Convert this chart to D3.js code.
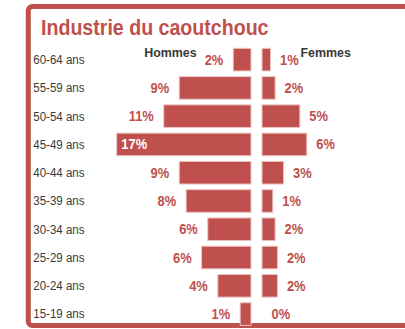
<!DOCTYPE html>
<html>
<head>
<meta charset="utf-8">
<script src="https://cdn.jsdelivr.net/npm/d3@7"></script>
<style>
  html, body { margin: 0; padding: 0; background: #fff; }
  svg { display: block; }
  text { font-family: "Liberation Sans", Arial, sans-serif; }
</style>
</head>
<body>
<svg id="chart" width="405" height="329"></svg>
<script>
// Age pyramid of the rubber industry workforce (% of total employees)
const ageGroups = ["60-64 ans", "55-59 ans", "50-54 ans", "45-49 ans", "40-44 ans",
                   "35-39 ans", "30-34 ans", "25-29 ans", "20-24 ans", "15-19 ans"];
const hommes = [2.3, 9.3, 11.3, 17.4, 9.3, 8.4, 5.6, 6.4, 4.3, 1.4];
const femmes = [1.1, 1.7, 4.9, 5.8, 2.8, 1.4, 1.7, 2.0, 2.0, 0.0];
const title = "Industrie du caoutchouc";
const seriesNames = ["Hommes", "Femmes"];

const red = "#c0504d";
const grey = "#3a3a3a";
const svg = d3.select("#chart");

// Frame
svg.append("rect")
  .attr("x", 28.3).attr("y", 6.5)
  .attr("width", 420).attr("height", 319)
  .attr("rx", 4)
  .attr("fill", "none")
  .attr("stroke", red)
  .attr("stroke-width", 5);

svg.append("text")
  .attr("x", 41).attr("y", 35.3)
  .attr("fill", red)
  .attr("font-size", 21.3)
  .attr("font-weight", "bold")
  .text(title);

const y = d3.scaleBand()
  .domain(ageGroups)
  .range([45.5, 328.2])
  .paddingInner(0.2)
  .paddingOuter(0.1);

const menAxis = 251, womenAxis = 262;
const len = d3.scaleLinear().domain([0, 20]).range([0, 154.4]);
const fmt = v => Math.round(v) + "%";

const rows = ageGroups.map((g, i) => ({ g, h: hommes[i], f: femmes[i] }));

// Category labels
svg.append("g").selectAll("text")
  .data(rows).join("text")
  .attr("x", 33.3)
  .attr("y", d => y(d.g) + y.bandwidth() / 2 + 4.4)
  .attr("fill", grey)
  .attr("font-size", 12.5)
  .text(d => d.g);

// Men bars (to the left)
svg.append("g").selectAll("rect")
  .data(rows).join("rect")
  .attr("x", d => menAxis - len(d.h))
  .attr("y", d => y(d.g))
  .attr("width", d => len(d.h))
  .attr("height", y.bandwidth())
  .attr("fill", red)
  .attr("stroke", "#ecc4c3")
  .attr("stroke-width", 1);

// Women bars (to the right)
svg.append("g").selectAll("rect")
  .data(rows.filter(d => d.f > 0)).join("rect")
  .attr("x", womenAxis)
  .attr("y", d => y(d.g))
  .attr("width", d => len(d.f))
  .attr("height", y.bandwidth())
  .attr("fill", red)
  .attr("stroke", "#ecc4c3")
  .attr("stroke-width", 1);

// Men value labels; the widest bar carries its label inside
svg.append("g").selectAll("text")
  .data(rows).join("text")
  .attr("x", d => d.h >= 15 ? menAxis - len(d.h) + 4.7 : menAxis - len(d.h) - 10)
  .attr("y", d => y(d.g) + y.bandwidth() / 2 + 5)
  .attr("text-anchor", d => d.h >= 15 ? "start" : "end")
  .attr("fill", d => d.h >= 15 ? "#fff" : red)
  .attr("font-size", 14)
  .attr("font-weight", "bold")
  .text(d => fmt(d.h));

// Women value labels
svg.append("g").selectAll("text")
  .data(rows).join("text")
  .attr("x", d => womenAxis + len(d.f) + 9.5)
  .attr("y", d => y(d.g) + y.bandwidth() / 2 + 5)
  .attr("fill", red)
  .attr("font-size", 14)
  .attr("font-weight", "bold")
  .text(d => fmt(d.f));

// Series names
svg.append("text")
  .attr("x", 196.7).attr("y", 57.3)
  .attr("text-anchor", "end")
  .attr("fill", grey)
  .attr("font-size", 13.5)
  .attr("font-weight", "bold")
  .text(seriesNames[0]);

svg.append("text")
  .attr("x", 300.5).attr("y", 57.3)
  .attr("fill", grey)
  .attr("font-size", 13.5)
  .attr("font-weight", "bold")
  .text(seriesNames[1]);

// Slightly condensed lettering throughout
svg.selectAll("text").each(function () {
  const w = this.getComputedTextLength();
  d3.select(this)
    .attr("textLength", w * 0.92)
    .attr("lengthAdjust", "spacingAndGlyphs");
});
</script>
</body>
</html>
